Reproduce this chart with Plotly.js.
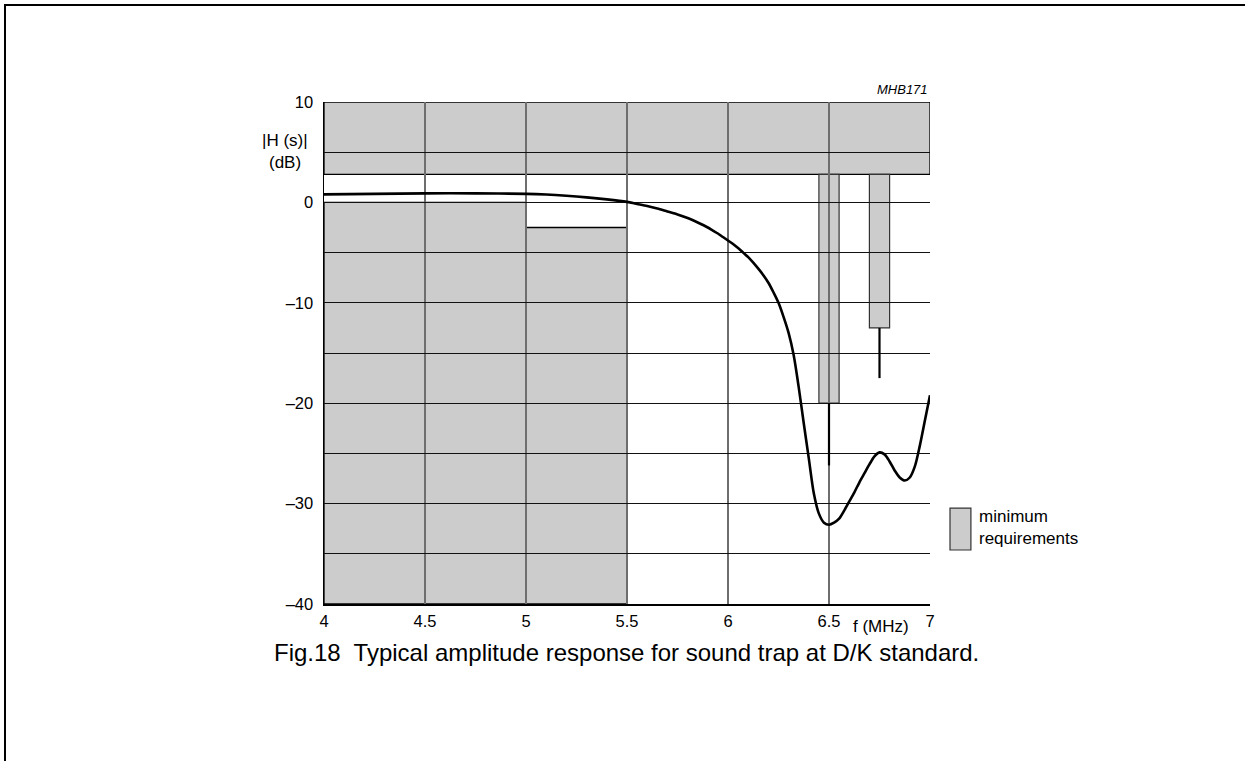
<!DOCTYPE html>
<html>
<head>
<meta charset="utf-8">
<script src="https://cdn.plot.ly/plotly-3.0.1.min.js"></script>
<style>
  html, body { margin: 0; padding: 0; background: #fff; overflow: hidden; }
  #chart { width: 1245px; height: 761px; }
  #frame { position: absolute; left: 4px; top: 4px; width: 1400px; height: 900px;
           border-left: 2px solid #000; border-top: 2px solid #000; pointer-events: none; }
</style>
</head>
<body>
<div id="chart"></div>
<div id="frame"></div>
<script>
// ---- data ----
const freqMHz = [4.0, 4.25, 4.5, 4.75, 5.0, 5.1, 5.2, 5.3, 5.4, 5.5, 5.55, 5.6, 5.65, 5.7, 5.75, 5.8, 5.85,
  5.9, 5.925, 5.95, 5.975, 6.0, 6.025, 6.05, 6.075, 6.1, 6.125, 6.15, 6.175, 6.2, 6.225, 6.25, 6.275,
  6.3, 6.325, 6.35, 6.375, 6.4, 6.425, 6.45, 6.475, 6.5, 6.525, 6.55, 6.575, 6.6, 6.625, 6.65, 6.675,
  6.7, 6.725, 6.75, 6.775, 6.8, 6.825, 6.85, 6.875, 6.9, 6.925, 6.95, 6.975, 7.0];
const gainDb = [0.8, 0.85, 0.9, 0.9, 0.85, 0.78, 0.66, 0.5, 0.3, 0.05, -0.15, -0.35, -0.6, -0.9, -1.2, -1.55, -2.0,
  -2.5, -2.8, -3.1, -3.45, -3.8, -4.15, -4.55, -5.0, -5.45, -6.0, -6.6, -7.25, -8.0, -8.95, -10.0, -11.4,
  -13.0, -15.2, -18.4, -22.0, -25.5, -29.0, -31.0, -31.9, -32.1, -31.9, -31.5, -30.7, -29.8, -28.9, -27.9, -27.0,
  -26.1, -25.3, -24.9, -25.1, -25.8, -26.7, -27.4, -27.7, -27.4, -26.3, -24.2, -21.7, -19.2];

// upper limit band (minimum requirements)
const bandFrom = [4.0, 7.0];
const bandLevel = [2.8, 10];
// lower pass-band requirement: step edges
const passX = [4.0, 5.0, 5.5];
const passLevel = [0, -2.5];
// trap notch requirements
const notchLeft  = [6.45, 6.7];
const notchRight = [6.55, 6.8];
const notchFloor = [-20, -12.5];
const stemFreq = [6.5, 6.75];
const stemEnd  = [-26.2, -17.5];

const xTicks = [4, 4.5, 5, 5.5, 6, 6.5, 7];
const xTickText = ['4', '4.5', '5', '5.5', '6', '6.5', '7'];
const yTicks = [-40, -35, -30, -25, -20, -15, -10, -5, 0, 5, 10];
const yTickText = ['\u201340', '', '\u201330', '', '\u201320', '', '\u201310', '', '0', '', '10'];

const yMin = -40, yMax = 10;
const FONT = '"Liberation Sans", Arial, sans-serif';
const GRAY = '#cccccc';

// ---- shapes built from the arrays ----
const shapes = [];
shapes.push({type: 'rect', xref: 'x', yref: 'y', layer: 'below',
  x0: bandFrom[0], x1: bandFrom[1], y0: bandLevel[0], y1: bandLevel[1],
  fillcolor: GRAY, line: {color: '#000', width: 1.3}});
let p = `M ${passX[0]},${yMin} L ${passX[0]},${passLevel[0]} L ${passX[1]},${passLevel[0]} ` +
        `L ${passX[1]},${passLevel[1]} L ${passX[2]},${passLevel[1]} L ${passX[2]},${yMin} Z`;
shapes.push({type: 'path', xref: 'x', yref: 'y', layer: 'below', path: p,
  fillcolor: GRAY, line: {color: '#000', width: 1.3}});
for (let i = 0; i < notchLeft.length; i++) {
  shapes.push({type: 'rect', xref: 'x', yref: 'y', layer: 'below',
    x0: notchLeft[i], x1: notchRight[i], y0: notchFloor[i], y1: bandLevel[0],
    fillcolor: GRAY, line: {color: '#333', width: 1.2}});
}
// legend swatch
shapes.push({type: 'rect', xref: 'paper', yref: 'paper',
  x0: 1.033, x1: 1.0675, y0: 0.1076, y1: 0.191,
  fillcolor: GRAY, line: {color: '#333', width: 1.2}});

const stemX = [], stemY = [];
for (let i = 0; i < stemFreq.length; i++) {
  stemX.push(stemFreq[i], stemFreq[i], null);
  stemY.push(notchFloor[i], stemEnd[i], null);
}

const traces = [
  {x: stemX, y: stemY, mode: 'lines', line: {color: '#000', width: 2.2},
   hoverinfo: 'skip', showlegend: false},
  {x: freqMHz, y: gainDb, mode: 'lines', line: {color: '#000', width: 2.6, shape: 'spline', smoothing: 0.8},
   showlegend: false}
];

const layout = {
  width: 1245, height: 761,
  margin: {l: 324, r: 315, t: 102, b: 157, pad: 0},
  paper_bgcolor: '#fff', plot_bgcolor: '#fff',
  font: {family: FONT, size: 16, color: '#000'},
  showlegend: false,
  xaxis: {
    range: [4, 7], tickmode: 'array', tickvals: xTicks, ticktext: xTickText,
    showgrid: true, gridcolor: '#6e6e6e', gridwidth: 1.3,
    showline: true, linecolor: '#000', linewidth: 1.5,
    zeroline: false, ticks: '', ticklabelstandoff: 2,
    tickfont: {family: FONT, size: 16.5, color: '#000'},
    fixedrange: true
  },
  yaxis: {
    range: [yMin, yMax], tickmode: 'array', tickvals: yTicks, ticktext: yTickText,
    showgrid: true, gridcolor: '#111', gridwidth: 1,
    showline: true, linecolor: '#000', linewidth: 1.5,
    zeroline: false, ticks: '', ticklabelstandoff: 6,
    tickfont: {family: FONT, size: 16.5, color: '#000'},
    fixedrange: true
  },
  shapes: shapes,
  annotations: [
    {xref: 'paper', yref: 'paper', x: -0.064, y: 0.924, xanchor: 'center', yanchor: 'middle',
     text: '|H (s)|', showarrow: false, font: {family: FONT, size: 17}},
    {xref: 'paper', yref: 'paper', x: -0.064, y: 0.880, xanchor: 'center', yanchor: 'middle',
     text: '(dB)', showarrow: false, font: {family: FONT, size: 17}},
    {xref: 'paper', yref: 'paper', x: 1.0, y: 1.0, xanchor: 'right', yanchor: 'bottom', yshift: 3,
     text: '<i>MHB171</i>', showarrow: false, font: {family: FONT, size: 13}},
    {xref: 'paper', yref: 'paper', x: 0.919, y: -0.044, xanchor: 'center', yanchor: 'middle',
     text: 'f (MHz)', showarrow: false, font: {family: FONT, size: 17}},
    {xref: 'paper', yref: 'paper', x: 1.078, y: 0.152, xanchor: 'left', yanchor: 'middle', align: 'left',
     text: 'minimum<br>requirements', showarrow: false, font: {family: FONT, size: 17}},
    {xref: 'paper', yref: 'paper', x: -0.086, y: -0.0976, xanchor: 'left', yanchor: 'middle',
     text: 'Fig.18  Typical amplitude response for sound trap at D/K standard.', showarrow: false,
     font: {family: FONT, size: 24}}
  ]
};

Plotly.newPlot('chart', traces, layout, {displayModeBar: false, staticPlot: true});
</script>
</body>
</html>
